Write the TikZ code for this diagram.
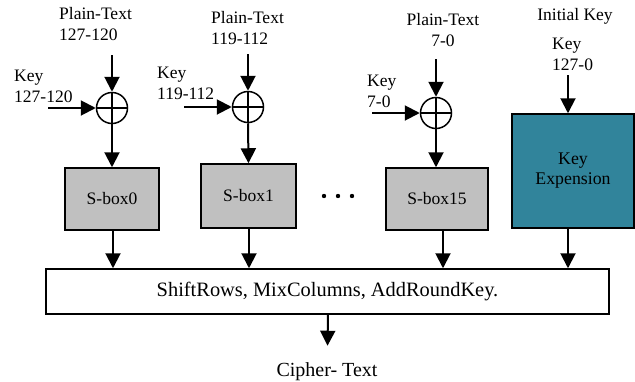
\documentclass[tikz,border=0pt]{standalone}
\usepackage{fontspec}
\setmainfont{Liberation Serif}
\usetikzlibrary{arrows.meta}
\definecolor{sboxgray}{HTML}{C0C0C0}
\definecolor{keyteal}{HTML}{31849B}
\begin{document}
\begin{tikzpicture}[x=1pt,y=-1pt,
  lbl/.style={inner sep=0pt,align=left,font=\fontsize{17.5}{21}\selectfont},
  lblc/.style={inner sep=0pt,align=center,font=\fontsize{17.5}{21}\selectfont},
  arr/.style={line width=2pt,-{Triangle[length=15pt,width=15pt]}},
  xorn/.style={circle,draw,line width=1.5pt,minimum size=31pt,inner sep=0pt,
    path picture={\draw[line width=1.3pt] (path picture bounding box.north) -- (path picture bounding box.south)
      (path picture bounding box.west) -- (path picture bounding box.east);}},
  sbox/.style={draw,line width=1.5pt,fill=sboxgray,inner sep=0pt,font=\fontsize{17.5}{21}\selectfont},
  kbox/.style={draw,line width=1.5pt,fill=keyteal,inner sep=0pt,align=center,font=\fontsize{17.8}{21}\selectfont},
  bigbox/.style={draw,line width=1.5pt,fill=white,inner sep=0pt,font=\fontsize{20.4}{24}\selectfont}
]
\useasboundingbox (0,0) rectangle (635,381);
% labels
\node[lbl,anchor=north west] (pt0) at (59,7) {Plain-Text\\127-120};
\node[lbl,anchor=north west] (pt1) at (211,11) {Plain-Text\\119-112};
\node[lblc,anchor=north] (pt15) at (443,13) {Plain-Text\\7-0};
\node[lblc,anchor=north] (ik) at (575,8) {Initial Key};
\node[lbl,anchor=north west] (k127) at (552,38) {Key\\127-0};
\node[lbl,anchor=north west] (k0) at (14,70) {Key\\127-120};
\node[lbl,anchor=north west] (k1) at (157,67) {Key\\119-112};
\node[lbl,anchor=north west] (k15) at (367,75) {Key\\7-0};
% xors
\node[xorn] (x0) at (112,108) {};
\node[xorn] (x1) at (248,107) {};
\node[xorn] (x15) at (436,113) {};
% boxes
\node[sbox,minimum width=94pt,minimum height=62pt] (sb0) at (112,199) {S-box0};
\node[sbox,minimum width=95pt,minimum height=64pt] (sb1) at (248.5,196) {S-box1};
\node[sbox,minimum width=102pt,minimum height=62pt] (sb15) at (437,199) {S-box15};
\node[kbox,minimum width=122pt,minimum height=114pt] (ke) at (573,171) {Key\\[-1pt]Expension};
\node[bigbox,minimum width=563pt,minimum height=45pt] (big) at (327.5,291.5) {ShiftRows, MixColumns, AddRoundKey.};
\node[inner sep=0pt,font=\fontsize{20}{24}\selectfont] (ct) at (327,372) {Cipher- Text};
% dots
\fill (324,196) circle (2.2pt) (338,196) circle (2.2pt) (352,196) circle (2.2pt);
% coordinates for free ends
\coordinate (s0) at (112,55);
\coordinate (s1) at (248,54);
\coordinate (s15) at (436,59);
\coordinate (sk) at (568,75);
\coordinate (h0) at (48,108);
\coordinate (h1) at (184,107);
\coordinate (h15) at (372,113);
% arrows
\draw[arr] (s0) -- (x0.north);
\draw[arr] (s1) -- (x1.north);
\draw[arr] (s15) -- (x15.north);
\draw[arr] (sk) -- (sk |- ke.north);
\draw[arr] (h0) -- (x0.west);
\draw[arr] (h1) -- (x1.west);
\draw[arr] (h15) -- (x15.west);
\draw[arr] (x0.south) -- (sb0.north);
\draw[arr] (x1.south) -- (sb1.north);
\draw[arr] (x15.south) -- (x15.south |- sb15.north);
\draw[arr] ([xshift=1pt]sb0.south) -- ([xshift=1pt]sb0.south |- big.north);
\draw[arr] ([xshift=0.5pt]sb1.south) -- ([xshift=0.5pt]sb1.south |- big.north);
\draw[arr] ([xshift=6pt]sb15.south) -- ([xshift=6pt]sb15.south |- big.north);
\draw[arr] ([xshift=-5pt]ke.south) -- ([xshift=-5pt]ke.south |- big.north);
\draw[arr] ([xshift=0.5pt]big.south) -- ([xshift=0.5pt,yshift=17pt]ct.north);
\end{tikzpicture}
\end{document}
